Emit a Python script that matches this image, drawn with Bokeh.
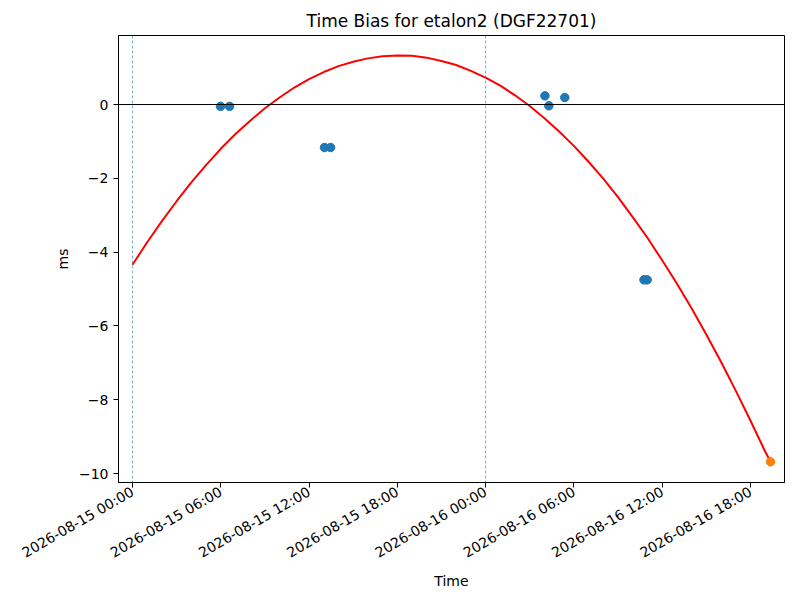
import math
import pandas as pd
from bokeh.plotting import figure
from bokeh.models import Span, Range1d, FixedTicker, DatetimeTickFormatter
from bokeh.embed import file_html
from bokeh.resources import INLINE

# ---- data ----
obs_times = ["2026-08-15 05:59", "2026-08-15 06:36", "2026-08-15 13:03", "2026-08-15 13:28",
             "2026-08-16 04:02", "2026-08-16 04:18", "2026-08-16 05:23",
             "2026-08-16 10:46", "2026-08-16 10:59"]
obs_values = [-0.05, -0.05, -1.165, -1.165, 0.235, -0.035, 0.19, -4.75, -4.75]

pred_times = ["2026-08-16 19:22"]
pred_values = [-9.68]

fit_start = "2026-08-15 00:00"
fit_hours = [0, 1, 2, 3, 4, 5, 6, 7, 8, 9, 10, 11, 12, 13, 14, 15, 16, 17, 18, 19, 20, 21,
             22, 23, 24, 25, 26, 27, 28, 29, 30, 31, 32, 33, 34, 35, 36, 37, 38, 39, 40, 41,
             42, 43, 43.37]
fit_values = [-4.34, -3.73, -3.16, -2.62, -2.11, -1.64, -1.20, -0.80, -0.44, -0.10, 0.19,
              0.46, 0.69, 0.88, 1.04, 1.16, 1.25, 1.31, 1.33, 1.32, 1.27, 1.18, 1.07, 0.91,
              0.73, 0.51, 0.25, -0.04, -0.37, -0.73, -1.12, -1.55, -2.01, -2.51, -3.05,
              -3.61, -4.22, -4.85, -5.52, -6.23, -6.97, -7.75, -8.56, -9.40, -9.68]

day_lines = ["2026-08-15 00:00", "2026-08-16 00:00"]
x_ticks = ["2026-08-15 00:00", "2026-08-15 06:00", "2026-08-15 12:00", "2026-08-15 18:00",
           "2026-08-16 00:00", "2026-08-16 06:00", "2026-08-16 12:00", "2026-08-16 18:00"]
y_ticks = [-10, -8, -6, -4, -2, 0]
x_limits = ["2026-08-14 23:03", "2026-08-16 20:19"]
y_limits = [-10.24, 1.87]

title_text = "Time Bias for etalon2 (DGF22701)"


def ms(s):
    return pd.Timestamp(s).value / 1e6


FONT = "DejaVu Sans"

p = figure(width=792, height=592, output_backend="svg", toolbar_location=None,
           x_axis_type="datetime",
           x_range=Range1d(ms(x_limits[0]), ms(x_limits[1])),
           y_range=Range1d(y_limits[0], y_limits[1]),
           min_border_left=118, min_border_right=8, min_border_top=35, min_border_bottom=110,
           title=title_text)
p.title.align = "center"
p.title.text_font = FONT
p.title.text_font_size = "17px"
p.title.text_font_style = "normal"
p.title.text_color = "black"
p.title.offset = 0

p.grid.visible = False
p.outline_line_color = "black"
p.outline_line_width = 1
p.background_fill_color = "white"
p.border_fill_color = "white"

for sp_t in day_lines:
    p.add_layout(Span(location=ms(sp_t), dimension="height", line_color="#1f77b4",
                      line_dash="3 2", line_width=0.6))
p.add_layout(Span(location=0, dimension="width", line_color="black", line_width=1))

base = ms(fit_start)
p.line([base + h * 3600000 for h in fit_hours], fit_values, line_color="red", line_width=2)
p.scatter([ms(t) for t in obs_times], obs_values, size=8.5, fill_color="#1f77b4",
          line_color="#1f77b4")
p.scatter([ms(t) for t in pred_times], pred_values, size=8.5, fill_color="#ff7f0e",
          line_color="#ff7f0e")

xa = p.xaxis[0]
xa.ticker = FixedTicker(ticks=[ms(t) for t in x_ticks])
xa.formatter = DatetimeTickFormatter(hours="%Y-%m-%d %H:%M", days="%Y-%m-%d %H:%M",
                                     hourmin="%Y-%m-%d %H:%M", minutes="%Y-%m-%d %H:%M")
xa.major_label_orientation = math.pi / 6
xa.axis_label = "Time"
xa.major_label_standoff = 3
xa.axis_label_standoff = 3

ya = p.yaxis[0]
ya.ticker = FixedTicker(ticks=y_ticks)
ya.major_label_overrides = {v: (str(v).replace("-", "\u2212")) for v in y_ticks}
ya.axis_label = "ms"

for ax in (xa, ya):
    ax.axis_line_color = "black"
    ax.major_tick_line_color = "black"
    ax.major_tick_out = 5
    ax.major_tick_in = 0
    ax.minor_tick_line_color = None
    ax.major_label_text_font = FONT
    ax.major_label_text_font_size = "14px"
    ax.major_label_text_color = "black"
    ax.axis_label_text_font = FONT
    ax.axis_label_text_font_size = "14px"
    ax.axis_label_text_font_style = "normal"
    ax.axis_label_text_color = "black"

open("out.html", "w").write(file_html(p, INLINE))
